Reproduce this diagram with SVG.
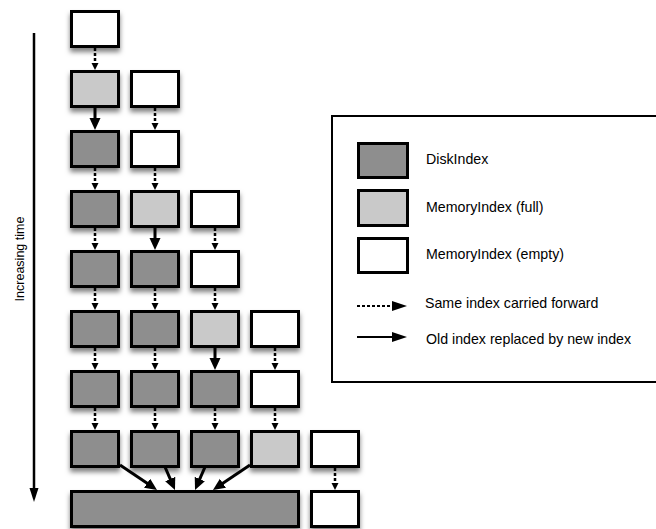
<svg xmlns="http://www.w3.org/2000/svg" width="656" height="529" viewBox="0 0 656 529">
<style>
.box{stroke:#000;stroke-width:3}
.disk{fill:#8e8e8e}
.full{fill:#c9c9c9}
.empty{fill:#fff}
.nodes{filter:url(#sh)}
.dash{stroke:#000;stroke-width:2.5;stroke-dasharray:3 2;fill:none}
.solid{stroke:#000;stroke-width:3;fill:none}
.lbl{font-family:"Liberation Sans",Arial,sans-serif;font-size:14.2px;fill:#000}
</style>
<defs>
<filter id="sh" x="-20%" y="-20%" width="140%" height="160%">
<feDropShadow dx="0" dy="4" stdDeviation="2.5" flood-color="#000" flood-opacity="0.5"/>
</filter>
<marker id="ms" markerUnits="userSpaceOnUse" markerWidth="14" markerHeight="12" refX="1" refY="5.5" orient="auto"><path d="M0,0 L12,5.5 L0,11 z" fill="#000"/></marker>
<marker id="md" markerUnits="userSpaceOnUse" markerWidth="9" markerHeight="8" refX="1" refY="3.5" orient="auto"><path d="M0,0 L7,3.5 L0,7 z" fill="#000"/></marker>
<marker id="ml" markerUnits="userSpaceOnUse" markerWidth="16" markerHeight="11" refX="1" refY="5" orient="auto"><path d="M0,0 L15,5 L0,10 z" fill="#000"/></marker>
<marker id="mt" markerUnits="userSpaceOnUse" markerWidth="16" markerHeight="10" refX="1" refY="4.5" orient="auto"><path d="M0,0 L14,4.5 L0,9 z" fill="#000"/></marker>
</defs>
<rect width="656" height="529" fill="#fff"/>

<g id="time-axis">
<line x1="34" y1="33" x2="34" y2="489" stroke="#000" stroke-width="2.5" marker-end="url(#mt)"/>
<text class="lbl" style="font-size:12.5px" transform="translate(24,259) rotate(-90)" text-anchor="middle">Increasing time</text>
</g>

<g class="nodes">
<g id="r0c0"><rect class="box empty" x="71.5" y="11.5" width="47" height="35"/></g>
<g id="r1c0"><rect class="box full" x="71.5" y="71.5" width="47" height="35"/></g>
<g id="r1c1"><rect class="box empty" x="131.5" y="71.5" width="47" height="35"/></g>
<g id="r2c0"><rect class="box disk" x="71.5" y="131.5" width="47" height="35"/></g>
<g id="r2c1"><rect class="box empty" x="131.5" y="131.5" width="47" height="35"/></g>
<g id="r3c0"><rect class="box disk" x="71.5" y="191.5" width="47" height="35"/></g>
<g id="r3c1"><rect class="box full" x="131.5" y="191.5" width="47" height="35"/></g>
<g id="r3c2"><rect class="box empty" x="191.5" y="191.5" width="47" height="35"/></g>
<g id="r4c0"><rect class="box disk" x="71.5" y="251.5" width="47" height="35"/></g>
<g id="r4c1"><rect class="box disk" x="131.5" y="251.5" width="47" height="35"/></g>
<g id="r4c2"><rect class="box empty" x="191.5" y="251.5" width="47" height="35"/></g>
<g id="r5c0"><rect class="box disk" x="71.5" y="311.5" width="47" height="35"/></g>
<g id="r5c1"><rect class="box disk" x="131.5" y="311.5" width="47" height="35"/></g>
<g id="r5c2"><rect class="box full" x="191.5" y="311.5" width="47" height="35"/></g>
<g id="r5c3"><rect class="box empty" x="251.5" y="311.5" width="47" height="35"/></g>
<g id="r6c0"><rect class="box disk" x="71.5" y="371.5" width="47" height="35"/></g>
<g id="r6c1"><rect class="box disk" x="131.5" y="371.5" width="47" height="35"/></g>
<g id="r6c2"><rect class="box disk" x="191.5" y="371.5" width="47" height="35"/></g>
<g id="r6c3"><rect class="box empty" x="251.5" y="371.5" width="47" height="35"/></g>
<g id="r7c0"><rect class="box disk" x="71.5" y="431.5" width="47" height="35"/></g>
<g id="r7c1"><rect class="box disk" x="131.5" y="431.5" width="47" height="35"/></g>
<g id="r7c2"><rect class="box disk" x="191.5" y="431.5" width="47" height="35"/></g>
<g id="r7c3"><rect class="box full" x="251.5" y="431.5" width="47" height="35"/></g>
<g id="r7c4"><rect class="box empty" x="311.5" y="431.5" width="47" height="35"/></g>
<g id="r8merged"><rect class="box disk" x="71.5" y="491.5" width="227" height="35"/></g>
<g id="r8c4"><rect class="box empty" x="311.5" y="491.5" width="47" height="35"/></g>
</g>

<g id="connectors">
<line class="dash" x1="95" y1="48" x2="95" y2="64" marker-end="url(#md)"/>
<line class="solid" x1="95" y1="108" x2="95" y2="119" marker-end="url(#ms)"/>
<line class="dash" x1="155" y1="108" x2="155" y2="124" marker-end="url(#md)"/>
<line class="dash" x1="95" y1="168" x2="95" y2="184" marker-end="url(#md)"/>
<line class="dash" x1="155" y1="168" x2="155" y2="184" marker-end="url(#md)"/>
<line class="dash" x1="95" y1="228" x2="95" y2="244" marker-end="url(#md)"/>
<line class="solid" x1="155" y1="228" x2="155" y2="239" marker-end="url(#ms)"/>
<line class="dash" x1="215" y1="228" x2="215" y2="244" marker-end="url(#md)"/>
<line class="dash" x1="95" y1="288" x2="95" y2="304" marker-end="url(#md)"/>
<line class="dash" x1="155" y1="288" x2="155" y2="304" marker-end="url(#md)"/>
<line class="dash" x1="215" y1="288" x2="215" y2="304" marker-end="url(#md)"/>
<line class="dash" x1="95" y1="348" x2="95" y2="364" marker-end="url(#md)"/>
<line class="dash" x1="155" y1="348" x2="155" y2="364" marker-end="url(#md)"/>
<line class="solid" x1="215" y1="348" x2="215" y2="359" marker-end="url(#ms)"/>
<line class="dash" x1="275" y1="348" x2="275" y2="364" marker-end="url(#md)"/>
<line class="dash" x1="95" y1="408" x2="95" y2="424" marker-end="url(#md)"/>
<line class="dash" x1="155" y1="408" x2="155" y2="424" marker-end="url(#md)"/>
<line class="dash" x1="215" y1="408" x2="215" y2="424" marker-end="url(#md)"/>
<line class="dash" x1="275" y1="408" x2="275" y2="424" marker-end="url(#md)"/>
<line class="dash" x1="335" y1="468" x2="335" y2="484" marker-end="url(#md)"/>
<line class="solid" x1="120" y1="465" x2="147.9" y2="483.8" marker-end="url(#ms)"/>
<line class="solid" x1="165" y1="467" x2="170.6" y2="479.9" marker-end="url(#ms)"/>
<line class="solid" x1="205" y1="467" x2="199.4" y2="479.9" marker-end="url(#ms)"/>
<line class="solid" x1="250" y1="465" x2="222.1" y2="483.8" marker-end="url(#ms)"/>
</g>

<g id="legend">
<rect x="332" y="116" width="340" height="266" fill="none" stroke="#000" stroke-width="2"/>
<rect class="box disk" x="358.5" y="143.5" width="49" height="34"/>
<rect class="box full" x="358.5" y="190.5" width="49" height="35"/>
<rect class="box empty" x="358.5" y="238.5" width="49" height="34"/>
<text class="lbl" x="426" y="164">DiskIndex</text>
<text class="lbl" x="426" y="212">MemoryIndex (full)</text>
<text class="lbl" x="426" y="259">MemoryIndex (empty)</text>
<line x1="357" y1="306" x2="393" y2="306" stroke="#000" stroke-width="2" stroke-dasharray="3 2" marker-end="url(#ml)"/>
<line x1="357" y1="337" x2="393" y2="337" stroke="#000" stroke-width="2" marker-end="url(#ml)"/>
<text class="lbl" x="425" y="308">Same index carried forward</text>
<text class="lbl" x="426" y="344">Old index replaced by new index</text>
</g>
</svg>
